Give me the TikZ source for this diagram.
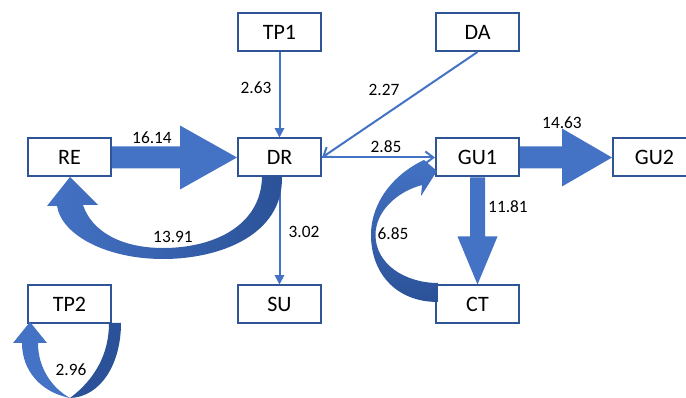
\documentclass[tikz,border=0pt]{standalone}
\usepackage{fontspec}
\setmainfont{Carlito}
\usetikzlibrary{arrows.meta,calc}
\definecolor{blk}{HTML}{4472C4}
\definecolor{bord}{HTML}{2F5597}
\definecolor{dark}{HTML}{2B5298}
\tikzset{
  box/.style={draw=bord, line width=1.5pt, fill=white, minimum width=62.25pt, minimum height=28.5pt, inner sep=0pt, font=\fontsize{16.5}{18}\selectfont},
  lbl/.style={font=\fontsize{13}{14}\selectfont, inner sep=0pt},
  thinarrow/.style={draw=blk, line width=1.5pt, -{Triangle[length=7pt,width=7pt]}},
  openarrow/.style={draw=blk, line width=1.5pt, -{Straight Barb[length=6pt,width=9pt]}},
  blockarrow/.style={fill=blk},
}
\begin{document}
\begin{tikzpicture}[x=0.75pt,y=-0.75pt]
\useasboundingbox (0,0) rectangle (686,398);
% nodes
\node[box] (TP1) at (279.5,32) {TP1};
\node[box] (DA)  at (477.5,32) {DA};
\node[box] (RE)  at (69.5,157.5) {RE};
\node[box] (DR)  at (279.5,157.5) {DR};
\node[box] (GU1) at (477.5,157.5) {GU1};
\node[box] (GU2) at (654.5,157.5) {GU2};
\node[box] (TP2) at (69.5,304.5) {TP2};
\node[box] (SU)  at (279.5,304.5) {SU};
\node[box] (CT)  at (477.5,304.5) {CT};

% thin connectors
\draw[thinarrow] (TP1) -- (DR);
\draw[openarrow] (DA.south) -- (DR.east);
\draw[openarrow] (DR.east) -- (GU1.west);
\draw[thinarrow] (DR) -- (SU);

% block arrows
\fill[blockarrow] ($(RE.east)+(0,-11)$) -- ($(DR.west)+(-57,-11)$) -- ($(DR.west)+(-57,-32)$) -- (DR.west) -- ($(DR.west)+(-57,32)$) -- ($(DR.west)+(-57,11)$) -- ($(RE.east)+(0,11)$) -- cycle;
\fill[blockarrow] ($(GU1.east)+(0,-11)$) -- ($(GU2.west)+(-50,-11)$) -- ($(GU2.west)+(-50,-29)$) -- (GU2.west) -- ($(GU2.west)+(-50,29)$) -- ($(GU2.west)+(-50,11)$) -- ($(GU1.east)+(0,11)$) -- cycle;
\fill[blockarrow] ($(GU1.south)+(-7.5,0)$) -- ($(CT.north)+(-7.5,-48)$) -- ($(CT.north)+(-20,-48)$) -- (CT.north) -- ($(CT.north)+(20,-48)$) -- ($(CT.north)+(7.5,-48)$) -- ($(GU1.south)+(7.5,0)$) -- cycle;

% curved arrow DR -> RE
\shade[left color=blk, right color=dark]
  (262,177) -- (282,177) .. controls (283,235) and (220,259) .. (163,259)
  .. controls (108,259) and (62,236) .. (57,206) -- (47,206) -- (70,177) -- (98,205) -- (83,205)
  .. controls (92,232) and (122,248) .. (163,248)
  .. controls (215,248) and (261,225) .. (262,177) -- cycle;
% curved arrow CT -> GU1
\shade[top color=blk, bottom color=dark]
  (438,302) .. controls (395,302) and (371,272) .. (371,235)
  .. controls (371,202) and (394,174) .. (424,160) -- (437,171) -- (421,196) -- (422,185)
  .. controls (396,192) and (375.5,212) .. (375.5,235)
  .. controls (375.5,264) and (405,283) .. (438,283) -- cycle;
% TP2 loop
\fill[dark] (109,323) -- (121,323) .. controls (121,365) and (100,397) .. (70,398)
  .. controls (94,380) and (109,355) .. (109,323) -- cycle;
\fill[blk] (70,398) .. controls (40,392) and (22,370) .. (22,343) -- (13,343) -- (30,322) -- (47,343) -- (38,343)
  .. controls (38,368) and (52,388) .. (70,398) -- cycle;

% labels
\node[lbl] (l1) at (152,138) {16.14};
\node[lbl] (l2) at (256,87.5) {2.63};
\node[lbl] (l3) at (384,90) {2.27};
\node[lbl] (l4) at (386,147) {2.85};
\node[lbl] (l5) at (562,122.5) {14.63};
\node[lbl] (l6) at (173,236.5) {13.91};
\node[lbl] (l7) at (304,232) {3.02};
\node[lbl] (l8) at (71,370) {2.96};
\node[lbl] (l9) at (508,206.5) {11.81};
\node[lbl] (l10) at (393,233.5) {6.85};
\end{tikzpicture}
\end{document}
